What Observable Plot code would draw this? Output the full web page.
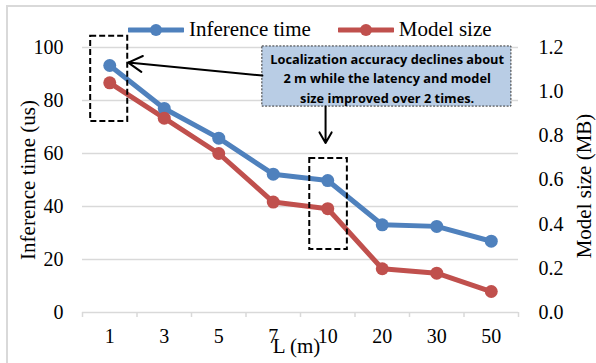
<!DOCTYPE html>
<html>
<head>
<meta charset="utf-8">
<script src="https://cdn.jsdelivr.net/npm/d3@7"></script>
<script src="https://cdn.jsdelivr.net/npm/@observablehq/plot@0.6"></script>
<style>
  html, body { margin: 0; padding: 0; background: #fff; }
  #wrap { position: relative; width: 596px; height: 363px; overflow: hidden; }
  #frame { position: absolute; left: 6px; top: 5px; right: -10px; bottom: -10px;
           border-top: 2px solid #d9d9d9; border-left: 2px solid #d9d9d9; pointer-events: none; }
  #legend { position: absolute; top: 17px; left: 128px; display: flex; align-items: center;
            font-family: "Liberation Serif", "Times New Roman", serif; font-size: 21px; color: #000; }
  #legend .item { display: flex; align-items: center; }
  #legend svg { display: block; margin-right: 5px; }
</style>
</head>
<body>
<div id="wrap"></div>
<script>
// ---- data ----
const categories = ["1", "3", "5", "7", "10", "20", "30", "50"];
const inferenceTime = [93.2, 77.0, 65.8, 52.2, 49.8, 33.1, 32.5, 26.9];   // us (left axis)
const modelSize = [1.04, 0.88, 0.72, 0.50, 0.47, 0.198, 0.178, 0.095];     // MB (right axis)
const leftTicks = [0, 20, 40, 60, 80, 100];
const rightTicks = [0, 0.2, 0.4, 0.6, 0.8, 1.0, 1.2];
const mbPerUnit = 0.012; // right axis: 1.2 MB at 100 us
const seriesNames = ["Inference time", "Model size"];
const seriesColors = ["#4f81bd", "#c0504d"];

// annotations (x in category-index units, y in left-axis units)
const focusBoxes = [
  {x1: -0.35, x2: 0.33, y1: 72.1, y2: 104.2},
  {x1: 3.67, x2: 4.36, y1: 23.8, y2: 58.1}
];
const noteBox = [{x1: 2.80, x2: 7.37, y1: 77.7, y2: 100.4}];
const noteText = [{x: 5.09, y: 88.9, text: "Localization accuracy declines about\n2 m while the latency and model\nsize improved over 2 times."}];
const noteArrows = [
  {x1: 2.80, y1: 89.4, x2: 0.34, y2: 94.3},
  {x1: 3.96, y1: 77.7, x2: 3.96, y2: 64.0}
];

// ---- build table ----
const rows = [];
categories.forEach((c, i) => {
  rows.push({i, cat: c, series: seriesNames[0], v: inferenceTime[i]});
  rows.push({i, cat: c, series: seriesNames[1], v: modelSize[i] / mbPerUnit});
});
const idx = categories.map((_, i) => i);
const bounds = d3.range(-0.5, categories.length, 1);

const chart = Plot.plot({
  width: 596,
  height: 363,
  marginLeft: 82,
  marginRight: 78,
  marginTop: 47,
  marginBottom: 51,
  style: {fontFamily: "'Liberation Serif', 'Times New Roman', serif", fontSize: "20px", color: "#000", background: "transparent"},
  x: {type: "linear", domain: [-0.5, categories.length - 0.5]},
  y: {domain: [0, 100]},
  color: {domain: seriesNames, range: seriesColors},
  marks: [
    Plot.ruleY(leftTicks.filter(d => d > 0), {stroke: "#d9d9d9", strokeWidth: 1.3}),
    Plot.ruleY([0], {stroke: "#d9d9d9", strokeWidth: 1.5}),
    Plot.axisX({ticks: bounds, tickSize: 5, tickFormat: () => "", stroke: "#d9d9d9", strokeWidth: 1.5, label: null}),
    Plot.axisX({ticks: idx, tickSize: 0, tickPadding: 16, tickFormat: i => categories[i], label: null}),
    Plot.axisY({ticks: leftTicks, tickSize: 0, tickPadding: 19, label: null}),
    Plot.axisY({anchor: "right", ticks: rightTicks.map(m => m / mbPerUnit), tickSize: 0, tickPadding: 20, label: null,
                tickFormat: d => (Math.round(d * mbPerUnit * 10) / 10).toFixed(1)}),
    Plot.text(["Inference time (us)"], {frameAnchor: "left", textAnchor: "middle", dx: -54, rotate: -90, fontSize: 21}),
    Plot.text(["Model size (MB)"], {frameAnchor: "right", textAnchor: "middle", dx: 66, dy: 6, rotate: -90, fontSize: 21}),
    Plot.text(["L (m)"], {frameAnchor: "bottom", dy: 40, dx: -4, fontSize: 21}),
    Plot.line(rows, {x: "i", y: "v", z: "series", stroke: "series", strokeWidth: 5}),
    Plot.dot(rows, {x: "i", y: "v", fill: "series", r: 6.5}),
    Plot.rect(focusBoxes, {x1: "x1", x2: "x2", y1: "y1", y2: "y2", fill: "none", stroke: "#000", strokeWidth: 2, strokeDasharray: "6,3"}),
    Plot.rect(noteBox, {x1: "x1", x2: "x2", y1: "y1", y2: "y2", fill: "#b9cde5", stroke: "#333", strokeWidth: 1, strokeDasharray: "2,1.5"}),
    Plot.text(noteText, {x: "x", y: "y", text: "text", fontFamily: "'Open Sans', sans-serif", fontWeight: "bold", fontSize: 12.8, lineHeight: 1.52, fill: "#000"}),
    Plot.arrow(noteArrows, {x1: "x1", y1: "y1", x2: "x2", y2: "y2", stroke: "#000", strokeWidth: 2, headLength: 12})
  ]
});

const wrap = document.getElementById("wrap");
wrap.appendChild(chart);
const frame = document.createElement("div");
frame.id = "frame";
wrap.appendChild(frame);

// legend
const legend = document.createElement("div");
legend.id = "legend";
seriesNames.forEach((name, k) => {
  const item = document.createElement("div");
  item.className = "item";
  if (k > 0) item.style.marginLeft = "27px";
  const sw = d3.create("svg").attr("width", 56).attr("height", 14);
  sw.append("line").attr("x1", 1).attr("x2", 55).attr("y1", 7).attr("y2", 7)
    .attr("stroke", seriesColors[k]).attr("stroke-width", 5).attr("stroke-linecap", "round");
  sw.append("circle").attr("cx", 28).attr("cy", 7).attr("r", 6).attr("fill", seriesColors[k]);
  item.appendChild(sw.node());
  const t = document.createElement("span");
  t.textContent = name;
  item.appendChild(t);
  legend.appendChild(item);
});
wrap.appendChild(legend);
</script>
</body>
</html>
